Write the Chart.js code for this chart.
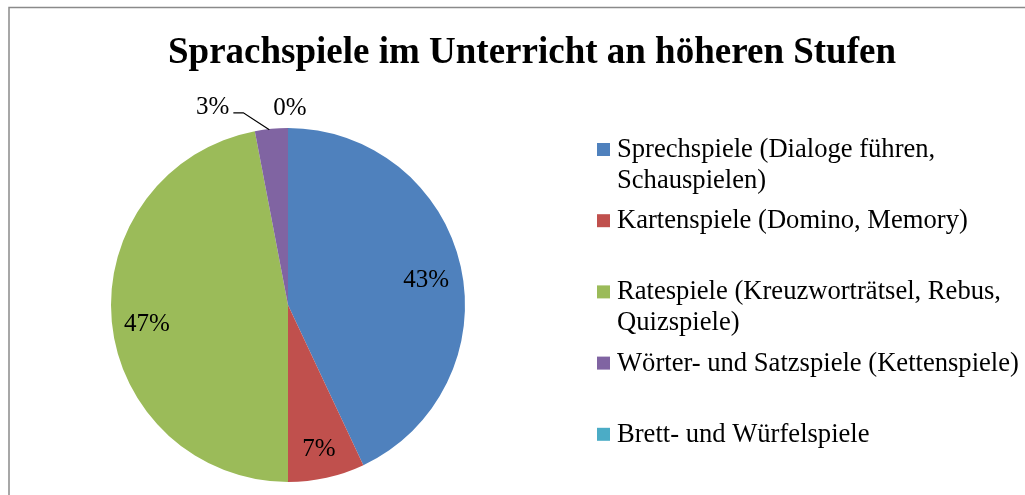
<!DOCTYPE html>
<html>
<head>
<meta charset="utf-8">
<script src="https://cdn.jsdelivr.net/npm/chart.js@4"></script>
<style>
  html, body { margin: 0; padding: 0; background: #fff; }
  #wrap { width: 1025px; height: 495px; position: relative; }
</style>
</head>
<body>
<div id="wrap"><canvas id="chart" width="1025" height="495"></canvas></div>
<script>
// Chart data
const categories = [
  'Sprechspiele (Dialoge führen, Schauspielen)',
  'Kartenspiele (Domino, Memory)',
  'Ratespiele (Kreuzworträtsel, Rebus, Quizspiele)',
  'Wörter- und Satzspiele (Kettenspiele)',
  'Brett- und Würfelspiele'
];
const shares = [43, 7, 47, 3, 0];
const colors = ['#4F81BD', '#C0504D', '#9BBB59', '#8064A2', '#4BACC6'];
const chartTitle = 'Sprachspiele im Unterricht an höheren Stufen';

const serif = "'Liberation Serif', 'Times New Roman', serif";

// gray frame + title (the title plugin would squeeze it into the chart area width)
const framePlugin = {
  id: 'frame',
  beforeDraw(chart) {
    const ctx = chart.ctx;
    ctx.save();
    ctx.strokeStyle = '#8a8a8a';
    ctx.lineWidth = 1.5;
    ctx.strokeRect(9, 7.5, chart.width + 20, chart.height + 20);
    ctx.fillStyle = '#000';
    ctx.font = 'bold 37px ' + serif;
    ctx.textAlign = 'center';
    ctx.textBaseline = 'alphabetic';
    ctx.fillText(chartTitle, 532, 63);
    ctx.restore();
  }
};

// percentage labels on / next to the slices
const sliceLabels = {
  id: 'sliceLabels',
  afterDatasetsDraw(chart) {
    const ctx = chart.ctx;
    const meta = chart.getDatasetMeta(0);
    ctx.save();
    ctx.font = '25px ' + serif;
    ctx.fillStyle = '#000';
    ctx.strokeStyle = '#000';
    ctx.lineWidth = 1.2;
    meta.data.forEach((arc, i) => {
      const v = shares[i];
      const p = arc.getProps(['x', 'y', 'startAngle', 'endAngle', 'outerRadius'], true);
      const mid = (p.startAngle + p.endAngle) / 2;
      const text = v + '%';
      if (v >= 5) {
        const r = p.outerRadius * 0.8;
        ctx.textAlign = 'center';
        ctx.textBaseline = 'middle';
        ctx.fillText(text, p.x + Math.cos(mid) * r, p.y + Math.sin(mid) * r + 6);
      } else if (v === 0) {
        const r = p.outerRadius + 21;
        ctx.textAlign = 'center';
        ctx.textBaseline = 'middle';
        ctx.fillText(text, p.x + Math.cos(mid) * r + 2, p.y + Math.sin(mid) * r + 1);
      } else {
        // pushed aside with a leader line
        const ex = p.x + Math.cos(mid) * p.outerRadius;
        const ey = p.y + Math.sin(mid) * p.outerRadius;
        ctx.beginPath();
        ctx.moveTo(ex - 2, ey + 1);
        ctx.lineTo(ex - 28, ey - 16);
        ctx.lineTo(ex - 38, ey - 16);
        ctx.stroke();
        ctx.textAlign = 'right';
        ctx.textBaseline = 'middle';
        ctx.fillText(text, ex - 42, ey - 21);
      }
    });
    ctx.restore();
  }
};

// legend on the right, wrapped like the original
const sideLegend = {
  id: 'sideLegend',
  afterDraw(chart) {
    const ctx = chart.ctx;
    ctx.save();
    ctx.font = '26.6px ' + serif;
    ctx.textAlign = 'left';
    ctx.textBaseline = 'middle';
    const x0 = 597, maxW = 420, step = 71.2, lineH = 31;
    chart.data.labels.forEach((label, i) => {
      const cy = 149 + i * step;
      ctx.fillStyle = colors[i];
      ctx.fillRect(x0, cy - 6, 13, 13);
      // word wrap
      const words = label.split(' ');
      const lines = [];
      let cur = '';
      words.forEach((w) => {
        const t = cur ? cur + ' ' + w : w;
        if (ctx.measureText(t).width > maxW && cur) {
          lines.push(cur);
          cur = w;
        } else {
          cur = t;
        }
      });
      lines.push(cur);
      ctx.fillStyle = '#000';
      lines.forEach((ln, k) => ctx.fillText(ln, x0 + 20, cy + 1 + k * lineH));
    });
    ctx.restore();
  }
};

new Chart(document.getElementById('chart'), {
  type: 'pie',
  data: {
    labels: categories,
    datasets: [{
      data: shares,
      backgroundColor: colors,
      borderWidth: 0
    }]
  },
  options: {
    responsive: false,
    animation: false,
    layout: { padding: { left: 111, right: 560, top: 128, bottom: 13 } },
    plugins: {
      legend: { display: false },
      tooltip: { enabled: false },
      title: { display: false }
    }
  },
  plugins: [framePlugin, sliceLabels, sideLegend]
});
</script>
</body>
</html>
